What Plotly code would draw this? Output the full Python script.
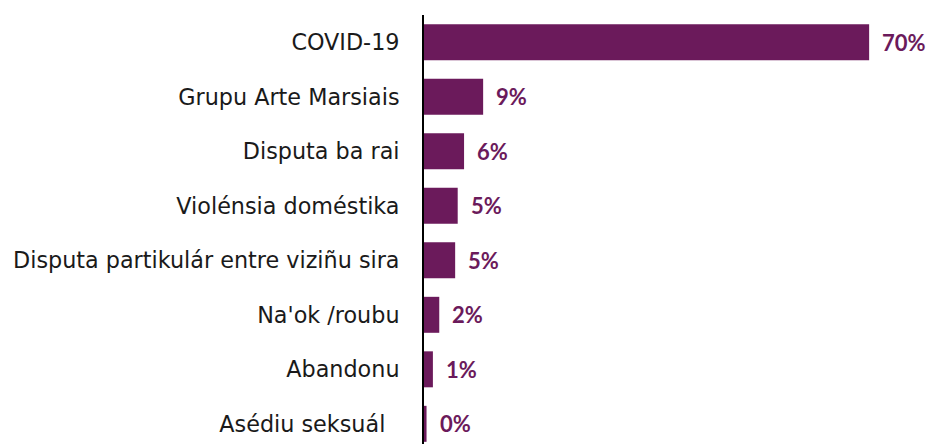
import plotly.graph_objects as go

categories = ["COVID-19", "Grupu Arte Marsiais", "Disputa ba rai", "Violénsia doméstika",
              "Disputa partikulár entre viziñu sira", "Na'ok /roubu", "Abandonu",
              "Asédiu seksuál\u00a0\u00a0"]
values = [70.0, 9.3, 6.3, 5.3, 4.9, 2.4, 1.4, 0.4]
labels = ["70%", "9%", "6%", "5%", "5%", "2%", "1%", "0%"]

color = "#6B1A5B"

fig = go.Figure(go.Bar(
    x=values, y=categories, orientation="h",
    marker=dict(color=color, line=dict(width=0)),
    width=0.66,
))

for c, v, t in zip(categories, values, labels):
    fig.add_annotation(x=v, y=c, text=t, showarrow=False, xanchor="left",
                       xshift=11, font=dict(family="Lato", size=22, color=color, weight="bold"))

fig.update_layout(
    width=926, height=436,
    margin=dict(l=416, r=0, t=7, b=0),
    plot_bgcolor="white", paper_bgcolor="white",
    showlegend=False,
    xaxis=dict(range=[0, 80.2], visible=False),
    yaxis=dict(
        range=[7.37, -0.5],
        showline=True, linecolor="black", linewidth=2,
        ticks="outside", ticklen=18, tickcolor="rgba(0,0,0,0)",
        tickfont=dict(family="DejaVu Sans", size=22.3, color="#1a1a1a"),
        showgrid=False, zeroline=False,
    ),
)

fig.write_html("out.html")
